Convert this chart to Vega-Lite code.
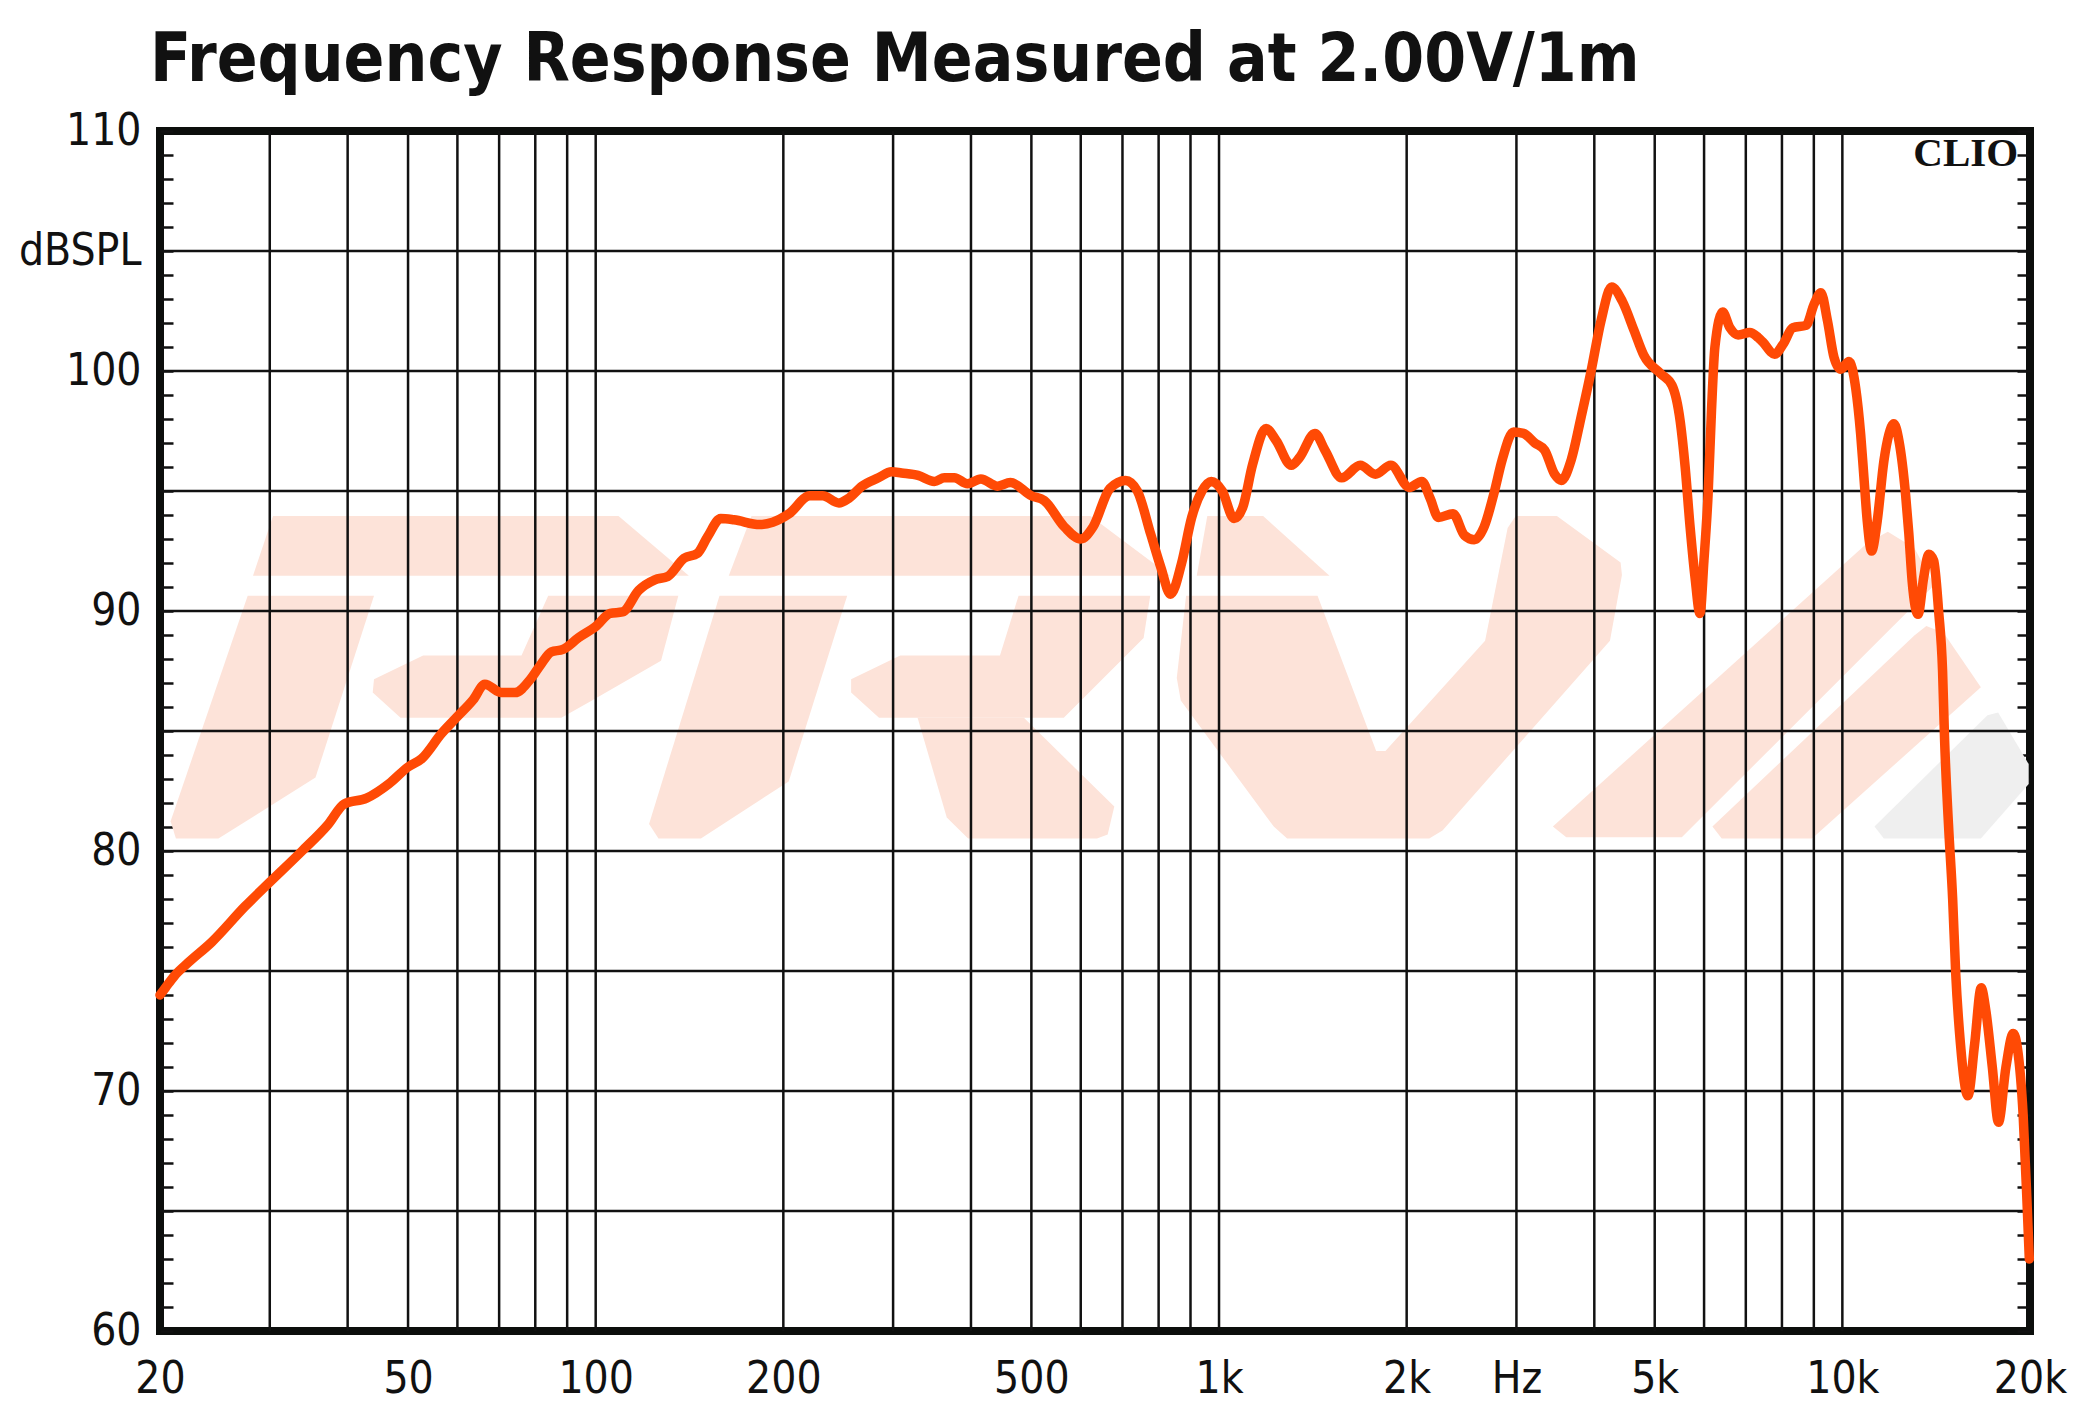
{
  "$schema": "https://vega.github.io/schema/vega-lite/v6.json",
  "width": 1870,
  "height": 1200,
  "autosize": {"type": "none"},
  "padding": {"left": 160, "top": 131, "right": 51, "bottom": 83},
  "background": "white",
  "title": {
    "text": "Frequency Response Measured at 2.00V/1m",
    "anchor": "start",
    "frame": "group",
    "font": "Liberation Sans Narrow, DejaVu Sans Condensed, sans-serif",
    "fontSize": 67,
    "fontWeight": "bold",
    "color": "#111111",
    "dx": -10,
    "offset": -39,
    "baseline": "alphabetic"
  },
  "config": {
    "view": {"stroke": "#0c0e0c", "strokeWidth": 8},
    "axis": {
      "labelFont": "Liberation Sans Narrow, DejaVu Sans Condensed, sans-serif",
      "labelFontSize": 44,
      "labelColor": "#111111"
    }
  },
  "resolve": {"axis": {"y": "independent"}},
  "datasets": {
    "curve": [
      {"f": 20, "db": 74.0}, {"f": 20.4, "db": 74.3}, {"f": 21.1, "db": 74.8}, {"f": 22.2, "db": 75.35},
      {"f": 24.2, "db": 76.2}, {"f": 27.4, "db": 77.7}, {"f": 30, "db": 78.7}, {"f": 33.8, "db": 80.0},
      {"f": 37.2, "db": 81.1}, {"f": 39.5, "db": 81.96}, {"f": 42.9, "db": 82.2}, {"f": 46.6, "db": 82.8},
      {"f": 50, "db": 83.5}, {"f": 52.6, "db": 83.85}, {"f": 56.6, "db": 84.9}, {"f": 60, "db": 85.6},
      {"f": 63.6, "db": 86.3}, {"f": 66.4, "db": 86.95}, {"f": 70.6, "db": 86.6}, {"f": 74.2, "db": 86.6},
      {"f": 78.8, "db": 87.2}, {"f": 81.8, "db": 87.8}, {"f": 84.9, "db": 88.3}, {"f": 88.6, "db": 88.4},
      {"f": 94.0, "db": 88.9}, {"f": 100, "db": 89.35}, {"f": 105.5, "db": 89.9}, {"f": 110.4, "db": 89.96},
      {"f": 117.2, "db": 90.86}, {"f": 124.4, "db": 91.3}, {"f": 130.5, "db": 91.44}, {"f": 138.7, "db": 92.2},
      {"f": 145.6, "db": 92.4}, {"f": 151.2, "db": 93.1}, {"f": 158.7, "db": 93.85}, {"f": 166.6, "db": 93.8},
      {"f": 183.3, "db": 93.6}, {"f": 192.3, "db": 93.7}, {"f": 204.2, "db": 94.05}, {"f": 220.5, "db": 94.8},
      {"f": 231.3, "db": 94.8}, {"f": 245.6, "db": 94.5}, {"f": 254.8, "db": 94.7}, {"f": 267.5, "db": 95.2},
      {"f": 284.1, "db": 95.55}, {"f": 298.3, "db": 95.8}, {"f": 309.5, "db": 95.75}, {"f": 329, "db": 95.65},
      {"f": 349.4, "db": 95.4}, {"f": 362.5, "db": 95.55}, {"f": 376.1, "db": 95.55}, {"f": 395, "db": 95.3},
      {"f": 414.8, "db": 95.5}, {"f": 441, "db": 95.2}, {"f": 462.7, "db": 95.35}, {"f": 500, "db": 94.8},
      {"f": 524.4, "db": 94.6}, {"f": 565, "db": 93.5}, {"f": 600, "db": 93.0}, {"f": 627.8, "db": 93.5},
      {"f": 668, "db": 95.1}, {"f": 708, "db": 95.44}, {"f": 739.5, "db": 95.0}, {"f": 777, "db": 93.2},
      {"f": 807, "db": 91.8}, {"f": 836, "db": 90.7}, {"f": 871, "db": 92.0}, {"f": 904, "db": 93.9},
      {"f": 939, "db": 95.0}, {"f": 972, "db": 95.4}, {"f": 1012, "db": 95.0}, {"f": 1057, "db": 93.85},
      {"f": 1091, "db": 94.3}, {"f": 1132, "db": 96.1}, {"f": 1190, "db": 97.6}, {"f": 1235, "db": 97.1},
      {"f": 1306, "db": 96.07}, {"f": 1347, "db": 96.4}, {"f": 1425, "db": 97.4}, {"f": 1479, "db": 96.7},
      {"f": 1573, "db": 95.55}, {"f": 1685, "db": 96.07}, {"f": 1782, "db": 95.7}, {"f": 1886, "db": 96.07},
      {"f": 2020, "db": 95.15}, {"f": 2115, "db": 95.4}, {"f": 2181, "db": 94.7}, {"f": 2248, "db": 93.9},
      {"f": 2374, "db": 94.05}, {"f": 2476, "db": 93.15}, {"f": 2567, "db": 92.97}, {"f": 2662, "db": 93.5},
      {"f": 2761, "db": 94.9}, {"f": 2846, "db": 96.3}, {"f": 2969, "db": 97.46}, {"f": 3079, "db": 97.4},
      {"f": 3211, "db": 97.0}, {"f": 3330, "db": 96.7}, {"f": 3454, "db": 95.7}, {"f": 3541, "db": 95.44},
      {"f": 3673, "db": 96.3}, {"f": 3811, "db": 98.1}, {"f": 3953, "db": 100.0}, {"f": 4101, "db": 102.1},
      {"f": 4263, "db": 103.5}, {"f": 4437, "db": 102.9}, {"f": 4631, "db": 101.7}, {"f": 4804, "db": 100.65},
      {"f": 5107, "db": 99.9}, {"f": 5330, "db": 99.4}, {"f": 5494, "db": 97.9}, {"f": 5595, "db": 96.0},
      {"f": 5698, "db": 93.5}, {"f": 5803, "db": 91.4}, {"f": 5910, "db": 89.9}, {"f": 5997, "db": 92.1},
      {"f": 6091, "db": 94.9}, {"f": 6168, "db": 98.4}, {"f": 6245, "db": 101.0}, {"f": 6425, "db": 102.46},
      {"f": 6601, "db": 101.8}, {"f": 6805, "db": 101.5}, {"f": 7102, "db": 101.6}, {"f": 7322, "db": 101.4},
      {"f": 7457, "db": 101.2}, {"f": 7786, "db": 100.7}, {"f": 8028, "db": 101.1}, {"f": 8328, "db": 101.8},
      {"f": 8745, "db": 101.9}, {"f": 9014, "db": 102.8}, {"f": 9237, "db": 103.26}, {"f": 9464, "db": 102.1},
      {"f": 9698, "db": 100.56}, {"f": 9938, "db": 100.07}, {"f": 10250, "db": 100.4}, {"f": 10504, "db": 99.3},
      {"f": 10700, "db": 97.36}, {"f": 10830, "db": 95.56}, {"f": 10963, "db": 93.75}, {"f": 11140, "db": 92.5},
      {"f": 11374, "db": 93.75}, {"f": 11658, "db": 96.25}, {"f": 11875, "db": 97.36}, {"f": 12098, "db": 97.8},
      {"f": 12323, "db": 97.1}, {"f": 12630, "db": 94.86}, {"f": 12785, "db": 93.2}, {"f": 12940, "db": 91.25},
      {"f": 13225, "db": 89.86}, {"f": 13505, "db": 91.4}, {"f": 13755, "db": 92.36}, {"f": 14010, "db": 92.1},
      {"f": 14270, "db": 90.0}, {"f": 14480, "db": 87.5}, {"f": 14590, "db": 84.6}, {"f": 14800, "db": 81.1},
      {"f": 15030, "db": 78.0}, {"f": 15200, "db": 74.9}, {"f": 15470, "db": 71.95}, {"f": 15900, "db": 69.8},
      {"f": 16300, "db": 71.95}, {"f": 16700, "db": 74.3}, {"f": 17000, "db": 73.3}, {"f": 17400, "db": 71.0},
      {"f": 17800, "db": 68.7}, {"f": 18300, "db": 71.0}, {"f": 18800, "db": 72.4}, {"f": 19100, "db": 71.75},
      {"f": 19500, "db": 69.0}, {"f": 19800, "db": 65.1}, {"f": 19950, "db": 63.0}
    ],
    "logo": [
      {"s": "Ptop", "i": 1, "f": 30.36, "db": 93.96}, {"s": "Ptop", "i": 2, "f": 108.8, "db": 93.96},
      {"s": "Ptop", "i": 3, "f": 141.1, "db": 91.47}, {"s": "Ptop", "i": 4, "f": 28.2, "db": 91.47},
      {"s": "Pstem", "i": 1, "f": 27.65, "db": 90.64}, {"s": "Pstem", "i": 2, "f": 44.09, "db": 90.64},
      {"s": "Pstem", "i": 3, "f": 35.52, "db": 83.06}, {"s": "Pstem", "i": 4, "f": 24.82, "db": 80.52},
      {"s": "Pstem", "i": 5, "f": 21.21, "db": 80.52}, {"s": "Pstem", "i": 6, "f": 20.8, "db": 81.24},
      {"s": "Ploop", "i": 1, "f": 44.09, "db": 87.16}, {"s": "Ploop", "i": 2, "f": 52.86, "db": 88.15},
      {"s": "Ploop", "i": 3, "f": 76.03, "db": 88.15}, {"s": "Ploop", "i": 4, "f": 83.9, "db": 90.64},
      {"s": "Ploop", "i": 5, "f": 135.7, "db": 90.64}, {"s": "Ploop", "i": 6, "f": 127.3, "db": 87.93},
      {"s": "Ploop", "i": 7, "f": 98.64, "db": 86.27}, {"s": "Ploop", "i": 8, "f": 88.1, "db": 85.55},
      {"s": "Ploop", "i": 9, "f": 48.63, "db": 85.55}, {"s": "Ploop", "i": 10, "f": 43.88, "db": 86.6},
      {"s": "Rtop", "i": 1, "f": 177.8, "db": 93.96}, {"s": "Rtop", "i": 2, "f": 621.8, "db": 93.96},
      {"s": "Rtop", "i": 3, "f": 834.8, "db": 91.47}, {"s": "Rtop", "i": 4, "f": 163.5, "db": 91.47},
      {"s": "Rstem", "i": 1, "f": 158.0, "db": 90.64}, {"s": "Rstem", "i": 2, "f": 253.2, "db": 90.64},
      {"s": "Rstem", "i": 3, "f": 204.0, "db": 82.9}, {"s": "Rstem", "i": 4, "f": 147.5, "db": 80.52},
      {"s": "Rstem", "i": 5, "f": 126.1, "db": 80.52}, {"s": "Rstem", "i": 6, "f": 121.8, "db": 81.13},
      {"s": "Rloop", "i": 1, "f": 256.9, "db": 87.16}, {"s": "Rloop", "i": 2, "f": 308.0, "db": 88.15},
      {"s": "Rloop", "i": 3, "f": 445.2, "db": 88.15}, {"s": "Rloop", "i": 4, "f": 476.9, "db": 90.64},
      {"s": "Rloop", "i": 5, "f": 775.6, "db": 90.64}, {"s": "Rloop", "i": 6, "f": 756.9, "db": 88.87},
      {"s": "Rloop", "i": 7, "f": 563.6, "db": 85.55}, {"s": "Rloop", "i": 8, "f": 284.8, "db": 85.55},
      {"s": "Rloop", "i": 9, "f": 256.9, "db": 86.6},
      {"s": "Rleg", "i": 1, "f": 328.4, "db": 85.55}, {"s": "Rleg", "i": 2, "f": 486.4, "db": 85.55},
      {"s": "Rleg", "i": 3, "f": 679.2, "db": 81.85}, {"s": "Rleg", "i": 4, "f": 662.8, "db": 80.69},
      {"s": "Rleg", "i": 5, "f": 637.2, "db": 80.52}, {"s": "Rleg", "i": 6, "f": 395.8, "db": 80.52},
      {"s": "Rleg", "i": 7, "f": 365.8, "db": 81.4},
      {"s": "Vtop", "i": 1, "f": 957.6, "db": 93.96}, {"s": "Vtop", "i": 2, "f": 1177, "db": 93.96},
      {"s": "Vtop", "i": 3, "f": 1504, "db": 91.47}, {"s": "Vtop", "i": 4, "f": 921.0, "db": 91.47},
      {"s": "Vmain", "i": 1, "f": 885.4, "db": 90.64}, {"s": "Vmain", "i": 2, "f": 1439, "db": 90.64},
      {"s": "Vmain", "i": 3, "f": 1787, "db": 84.17}, {"s": "Vmain", "i": 4, "f": 1849, "db": 84.17},
      {"s": "Vmain", "i": 5, "f": 2672, "db": 88.76}, {"s": "Vmain", "i": 6, "f": 2904, "db": 93.46},
      {"s": "Vmain", "i": 7, "f": 2992, "db": 93.96}, {"s": "Vmain", "i": 8, "f": 3484, "db": 93.96},
      {"s": "Vmain", "i": 9, "f": 4408, "db": 92.02}, {"s": "Vmain", "i": 10, "f": 4430, "db": 91.5},
      {"s": "Vmain", "i": 11, "f": 4238, "db": 88.76}, {"s": "Vmain", "i": 12, "f": 2283, "db": 80.85},
      {"s": "Vmain", "i": 13, "f": 2174, "db": 80.52}, {"s": "Vmain", "i": 14, "f": 1286, "db": 80.52},
      {"s": "Vmain", "i": 15, "f": 1224, "db": 81.02}, {"s": "Vmain", "i": 16, "f": 868.2, "db": 86.27},
      {"s": "Vmain", "i": 17, "f": 855.5, "db": 87.21},
      {"s": "S1", "i": 1, "f": 3432, "db": 81.02}, {"s": "S1", "i": 2, "f": 10988, "db": 92.85},
      {"s": "S1", "i": 3, "f": 11828, "db": 93.3}, {"s": "S1", "i": 4, "f": 13046, "db": 92.63},
      {"s": "S1", "i": 5, "f": 14044, "db": 91.08}, {"s": "S1", "i": 6, "f": 5526, "db": 80.57},
      {"s": "S1", "i": 7, "f": 3606, "db": 80.57},
      {"s": "S2", "i": 1, "f": 6188, "db": 81.02}, {"s": "S2", "i": 2, "f": 13046, "db": 88.98},
      {"s": "S2", "i": 3, "f": 13636, "db": 89.37}, {"s": "S2", "i": 4, "f": 14535, "db": 89.09},
      {"s": "S2", "i": 5, "f": 16680, "db": 86.82}, {"s": "S2", "i": 6, "f": 8940, "db": 80.52},
      {"s": "S2", "i": 7, "f": 6404, "db": 80.52}
    ],
    "logoGray": [
      {"s": "G", "i": 1, "f": 11261, "db": 81.02}, {"s": "G", "i": 2, "f": 17096, "db": 85.66},
      {"s": "G", "i": 3, "f": 17780, "db": 85.77}, {"s": "G", "i": 4, "f": 19902, "db": 83.62},
      {"s": "G", "i": 5, "f": 19902, "db": 82.79}, {"s": "G", "i": 6, "f": 16680, "db": 80.52},
      {"s": "G", "i": 7, "f": 11656, "db": 80.52}
    ],
    "vgrid": [
      {"f": 30}, {"f": 40}, {"f": 50}, {"f": 60}, {"f": 70}, {"f": 80}, {"f": 90}, {"f": 100},
      {"f": 200}, {"f": 300}, {"f": 400}, {"f": 500}, {"f": 600}, {"f": 700}, {"f": 800}, {"f": 900}, {"f": 1000},
      {"f": 2000}, {"f": 3000}, {"f": 4000}, {"f": 5000}, {"f": 6000}, {"f": 7000}, {"f": 8000}, {"f": 9000}, {"f": 10000}
    ],
    "hgrid": [
      {"db": 65}, {"db": 70}, {"db": 75}, {"db": 80}, {"db": 85}, {"db": 90}, {"db": 95}, {"db": 100}, {"db": 105}
    ],
    "brand": [
      {"label": "CLIO", "f": 19140, "db": 108.55}
    ]
  },
  "layer": [
    {
      "data": {"name": "logo"},
      "mark": {"type": "line", "fill": "#fde3d9", "strokeOpacity": 0, "strokeWidth": 0},
      "encoding": {
        "x": {
          "field": "f", "type": "quantitative", "scale": {"type": "log", "domain": [20, 20000], "nice": false},
          "axis": {
            "values": [20, 50, 100, 200, 500, 1000, 2000, 3000, 5000, 10000, 20000],
            "labelExpr": "datum.value == 3000 ? 'Hz' : (datum.value >= 1000 ? (datum.value / 1000) + 'k' : '' + datum.value)",
            "grid": false, "ticks": false, "domain": false, "labelPadding": 26,
            "labelFlush": false, "labelOverlap": false, "title": null, "orient": "bottom"
          }
        },
        "y": {"field": "db", "type": "quantitative", "scale": {"domain": [60, 110], "nice": false, "zero": false}, "axis": null},
        "detail": {"field": "s"},
        "order": {"field": "i", "type": "quantitative"}
      }
    },
    {
      "data": {"name": "logoGray"},
      "mark": {"type": "line", "fill": "#efefef", "strokeOpacity": 0, "strokeWidth": 0},
      "encoding": {
        "x": {
          "field": "f", "type": "quantitative", "scale": {"type": "log", "domain": [20, 20000], "nice": false},
          "axis": {
            "values": [20, 50, 100, 200, 500, 1000, 2000, 3000, 5000, 10000, 20000],
            "labelExpr": "datum.value == 3000 ? 'Hz' : (datum.value >= 1000 ? (datum.value / 1000) + 'k' : '' + datum.value)",
            "grid": false, "ticks": false, "domain": false, "labelPadding": 26,
            "labelFlush": false, "labelOverlap": false, "title": null, "orient": "bottom"
          }
        },
        "y": {"field": "db", "type": "quantitative", "scale": {"domain": [60, 110], "nice": false, "zero": false}, "axis": null},
        "detail": {"field": "s"},
        "order": {"field": "i", "type": "quantitative"}
      }
    },
    {
      "data": {"name": "vgrid"},
      "mark": {"type": "rule", "color": "#111111", "strokeWidth": 2.5},
      "encoding": {
        "x": {
          "field": "f", "type": "quantitative", "scale": {"type": "log", "domain": [20, 20000], "nice": false},
          "axis": {
            "values": [20, 50, 100, 200, 500, 1000, 2000, 3000, 5000, 10000, 20000],
            "labelExpr": "datum.value == 3000 ? 'Hz' : (datum.value >= 1000 ? (datum.value / 1000) + 'k' : '' + datum.value)",
            "grid": false, "ticks": false, "domain": false, "labelPadding": 26,
            "labelFlush": false, "labelOverlap": false, "title": null, "orient": "bottom"
          }
        }
      }
    },
    {
      "data": {"name": "hgrid"},
      "mark": {"type": "rule", "color": "#111111", "strokeWidth": 2.5},
      "encoding": {
        "y": {
          "field": "db", "type": "quantitative",
          "scale": {"domain": [60, 110], "nice": false, "zero": false},
          "axis": {
            "orient": "right", "values": [60,61,62,63,64,65,66,67,68,69,70,71,72,73,74,75,76,77,78,79,80,81,82,83,84,85,86,87,88,89,90,91,92,93,94,95,96,97,98,99,100,101,102,103,104,105,106,107,108,109,110],
            "labels": false, "grid": false, "domain": false, "ticks": true,
            "tickSize": -13, "tickWidth": 2.5, "tickColor": "#111111", "title": null
          }
        }
      }
    },
    {
      "data": {"name": "curve"},
      "mark": {"type": "line", "color": "#ff4a05", "strokeWidth": 9.5, "strokeCap": "round", "strokeJoin": "round", "interpolate": "monotone"},
      "encoding": {
        "x": {
          "field": "f", "type": "quantitative",
          "scale": {"type": "log", "domain": [20, 20000], "nice": false},
          "axis": {
            "values": [20, 50, 100, 200, 500, 1000, 2000, 3000, 5000, 10000, 20000],
            "labelExpr": "datum.value == 3000 ? 'Hz' : (datum.value >= 1000 ? (datum.value / 1000) + 'k' : '' + datum.value)",
            "grid": false, "ticks": false, "domain": false, "labelPadding": 26,
            "labelFlush": false, "labelOverlap": false, "title": null, "orient": "bottom"
          }
        },
        "y": {
          "field": "db", "type": "quantitative",
          "scale": {"domain": [60, 110], "nice": false, "zero": false},
          "axis": {
            "orient": "left", "values": [60,61,62,63,64,65,66,67,68,69,70,71,72,73,74,75,76,77,78,79,80,81,82,83,84,85,86,87,88,89,90,91,92,93,94,95,96,97,98,99,100,101,102,103,104,105,106,107,108,109,110],
            "labelExpr": "datum.value == 105 ? 'dBSPL' : (datum.value % 10 == 0 ? '' + datum.value : '')",
            "grid": false, "domain": false, "ticks": true,
            "tickSize": -13, "tickWidth": 2.5, "tickColor": "#111111",
            "labelPadding": 32, "labelOverlap": false, "labelBound": false, "title": null
          }
        }
      }
    },
    {
      "data": {"name": "brand"},
      "mark": {"type": "text", "font": "Liberation Serif, DejaVu Serif, serif", "fontWeight": "bold", "fontSize": 41, "align": "right", "baseline": "alphabetic", "color": "#111111"},
      "encoding": {
        "text": {"field": "label"},
        "x": {
          "field": "f", "type": "quantitative", "scale": {"type": "log", "domain": [20, 20000], "nice": false},
          "axis": {
            "values": [20, 50, 100, 200, 500, 1000, 2000, 3000, 5000, 10000, 20000],
            "labelExpr": "datum.value == 3000 ? 'Hz' : (datum.value >= 1000 ? (datum.value / 1000) + 'k' : '' + datum.value)",
            "grid": false, "ticks": false, "domain": false, "labelPadding": 26,
            "labelFlush": false, "labelOverlap": false, "title": null, "orient": "bottom"
          }
        },
        "y": {"field": "db", "type": "quantitative", "scale": {"domain": [60, 110], "nice": false, "zero": false}, "axis": null}
      }
    }
  ]
}
